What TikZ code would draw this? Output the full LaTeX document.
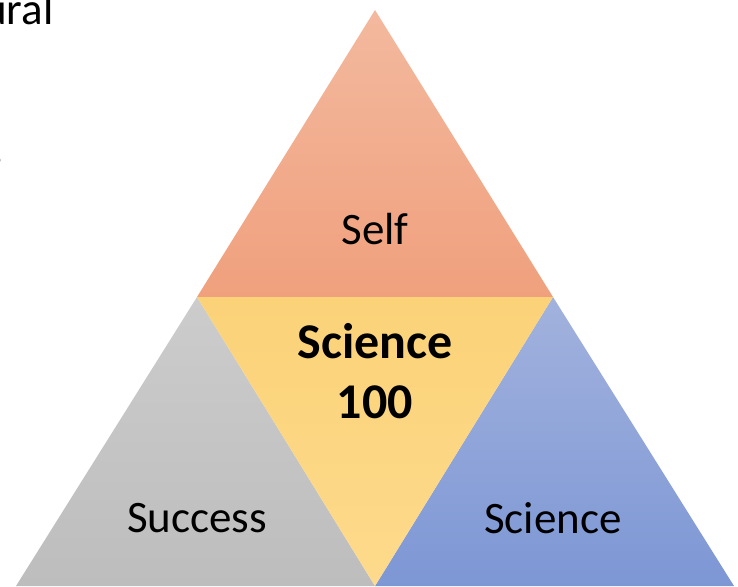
\documentclass[tikz,border=0pt]{standalone}
\usepackage{fontspec}
\setmainfont{Carlito}
\begin{document}
\begin{tikzpicture}[x=1pt,y=-1pt,
  lbl/.style={font=\fontsize{45}{50}\selectfont, inner sep=0pt, text=black},
  blbl/.style={font=\fontsize{50}{60}\selectfont\bfseries, inner sep=0pt, text=black, align=center}]
\useasboundingbox (0,0) rectangle (738,586);
\clip (0,0) rectangle (738,586);
% top triangle
\shade[top color={rgb,255:red,243;green,185;blue,158}, bottom color={rgb,255:red,240;green,160;blue,125}]
  (375,10) -- (553,297) -- (197,297) -- cycle;
% gray triangle
\shade[top color={rgb,255:red,204;green,204;blue,204}, bottom color={rgb,255:red,189;green,189;blue,189}]
  (197,297) -- (375,586) -- (16,586) -- cycle;
% blue triangle
\shade[top color={rgb,255:red,162;green,178;blue,221}, bottom color={rgb,255:red,125;green,151;blue,213}]
  (553,297) -- (734,586) -- (375,586) -- cycle;
% yellow triangle
\shade[top color={rgb,255:red,251;green,210;blue,120}, bottom color={rgb,255:red,253;green,218;blue,140}]
  (197,297) -- (553,297) -- (375,586) -- cycle;
% labels
\node[lbl] (self) at (375,229) {Self};
\node[blbl] (core) at (375,371) {Science\\100};
\node[lbl] (success) at (197,518) {Success};
\node[lbl] (science) at (553,518) {Science};
\node[lbl, font=\fontsize{45}{50}\selectfont, anchor=base west] (ural) at (-17,25) {ural};
\node[lbl, font=\fontsize{45}{50}\selectfont, anchor=base west] (comma) at (-8,162) {,};
\end{tikzpicture}
\end{document}
